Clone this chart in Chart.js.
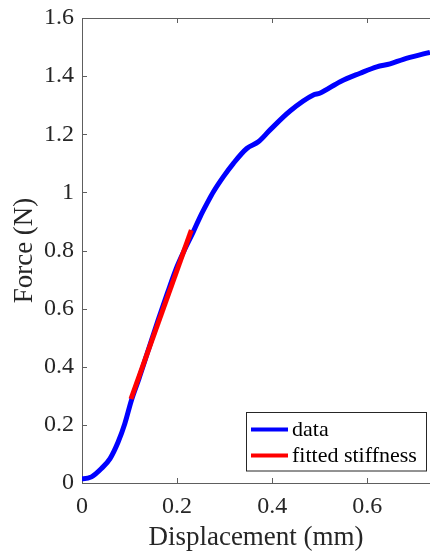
<!DOCTYPE html>
<html>
<head>
<meta charset="utf-8">
<script src="https://cdn.jsdelivr.net/npm/chart.js@4.4.1/dist/chart.umd.min.js"></script>
<style>
html,body{margin:0;padding:0;background:#fff;}
#wrap{width:430px;height:552px;position:relative;}
</style>
</head>
<body>
<div id="wrap"><canvas id="c" width="430" height="552"></canvas></div>
<script>
// ---- data ----
const dispData = [0, 0.003, 0.02, 0.041, 0.059, 0.076, 0.09, 0.104, 0.12, 0.14, 0.16, 0.18, 0.2, 0.215, 0.234, 0.2485, 0.263, 0.2765, 0.2975, 0.3185, 0.3466, 0.371, 0.3956, 0.4376, 0.4866, 0.5, 0.543, 0.585, 0.62, 0.648, 0.676, 0.725, 0.732];
const forceData = [0.015, 0.015, 0.021, 0.05, 0.084, 0.141, 0.204, 0.285, 0.36, 0.46, 0.56, 0.655, 0.745, 0.80, 0.864, 0.916, 0.962, 1.002, 1.054, 1.1, 1.151, 1.174, 1.215, 1.28, 1.335, 1.341, 1.381, 1.41, 1.432, 1.442, 1.458, 1.479, 1.482];
const fitDisp = [0.103, 0.23];
const fitForce = [0.289, 0.87];
const seriesLabels = ['data', 'fitted stiffness'];
const xTicks = [0, 0.2, 0.4, 0.6];
const yTicks = [0, 0.2, 0.4, 0.6, 0.8, 1, 1.2, 1.4, 1.6];
const xLabel = 'Displacement (mm)';
const yLabel = 'Force (N)';

const FONT = '"Liberation Serif", "Times New Roman", serif';
const AXIS = '#262626';
const LINE = '#5e5e5e';

const toPts = (xs, ys) => xs.map((x, i) => ({x: x, y: ys[i]}));

const framePlugin = {
  id: 'frame',
  afterDatasetsDraw(chart) {
    const ctx = chart.ctx, a = chart.chartArea;
    const xs = chart.scales.x, ys = chart.scales.y;
    ctx.save();
    ctx.strokeStyle = LINE;
    ctx.lineWidth = 1;
    // top border
    ctx.beginPath();
    ctx.moveTo(a.left, a.top + 0.5);
    ctx.lineTo(a.right, a.top + 0.5);
    ctx.stroke();
    // inward ticks
    const tl = 5;
    ctx.beginPath();
    xTicks.forEach(v => {
      const px = Math.round(xs.getPixelForValue(v)) + 0.5;
      if (v !== 0) {
        ctx.moveTo(px, a.bottom); ctx.lineTo(px, a.bottom - tl);
        ctx.moveTo(px, a.top); ctx.lineTo(px, a.top + tl);
      }
    });
    yTicks.forEach(v => {
      const py = Math.round(ys.getPixelForValue(v)) + 0.5;
      if (v !== 0 && v !== 1.6) {
        ctx.moveTo(a.left, py); ctx.lineTo(a.left + tl, py);
      }
    });
    ctx.stroke();

    // legend box
    const bx = a.right - 184.5, by = a.bottom - 71, bw = 180, bh = 58.5;
    ctx.fillStyle = '#fff';
    ctx.fillRect(bx, by, bw, bh);
    ctx.strokeStyle = AXIS;
    ctx.strokeRect(Math.round(bx) + 0.5, Math.round(by) + 0.5, bw, bh);
    const rows = [by + 17.5, by + 43.5];
    ctx.font = '22px ' + FONT;
    ctx.textBaseline = 'middle';
    ctx.textAlign = 'left';
    chart.data.datasets.forEach((ds, i) => {
      ctx.strokeStyle = ds.borderColor;
      ctx.lineWidth = 4;
      ctx.beginPath();
      ctx.moveTo(bx + 5.5, rows[i]);
      ctx.lineTo(bx + 42.5, rows[i]);
      ctx.stroke();
      ctx.fillStyle = '#000';
      ctx.fillText(ds.label, bx + 46.5, rows[i] + 1);
    });
    ctx.restore();
  }
};

new Chart(document.getElementById('c'), {
  type: 'line',
  data: {
    datasets: [
      {
        label: seriesLabels[0],
        data: toPts(dispData, forceData),
        borderColor: '#0000ff',
        borderWidth: 5,
        pointRadius: 0,
        cubicInterpolationMode: 'monotone',
        fill: false,
        order: 2
      },
      {
        label: seriesLabels[1],
        data: toPts(fitDisp, fitForce),
        borderColor: '#ff0000',
        borderWidth: 5,
        pointRadius: 0,
        fill: false,
        order: 1
      }
    ]
  },
  options: {
    responsive: false,
    animation: false,
    layout: {padding: {left: 0, right: 0, top: 18, bottom: 0}},
    plugins: {legend: {display: false}, tooltip: {enabled: false}},
    scales: {
      x: {
        type: 'linear',
        min: 0,
        max: 0.732,
        afterBuildTicks: s => { s.ticks = xTicks.map(v => ({value: v})); },
        afterFit: s => { s.height = 69; s.paddingLeft = 0; s.paddingRight = 0; },
        grid: {display: false, drawTicks: false},
        border: {display: true, color: LINE, width: 1},
        ticks: {
          color: AXIS, padding: 9, maxRotation: 0,
          font: {family: FONT, size: 24},
          callback: v => String(Math.round(v * 10) / 10)
        },
        title: {display: true, text: xLabel, color: AXIS, font: {family: FONT, size: 27}, padding: {top: 0, bottom: -2}}
      },
      y: {
        type: 'linear',
        min: 0,
        max: 1.6,
        afterBuildTicks: s => { s.ticks = yTicks.map(v => ({value: v})); },
        afterFit: s => { s.width = 82; s.paddingTop = 0; s.paddingBottom = 0; },
        grid: {display: false, drawTicks: false},
        border: {display: true, color: LINE, width: 1},
        ticks: {
          color: AXIS, padding: 8,
          font: {family: FONT, size: 24},
          callback: v => String(Math.round(v * 10) / 10)
        },
        title: {display: true, text: yLabel, color: AXIS, font: {family: FONT, size: 27}, padding: {top: 9, bottom: 0}}
      }
    }
  },
  plugins: [framePlugin]
});
</script>
</body>
</html>
